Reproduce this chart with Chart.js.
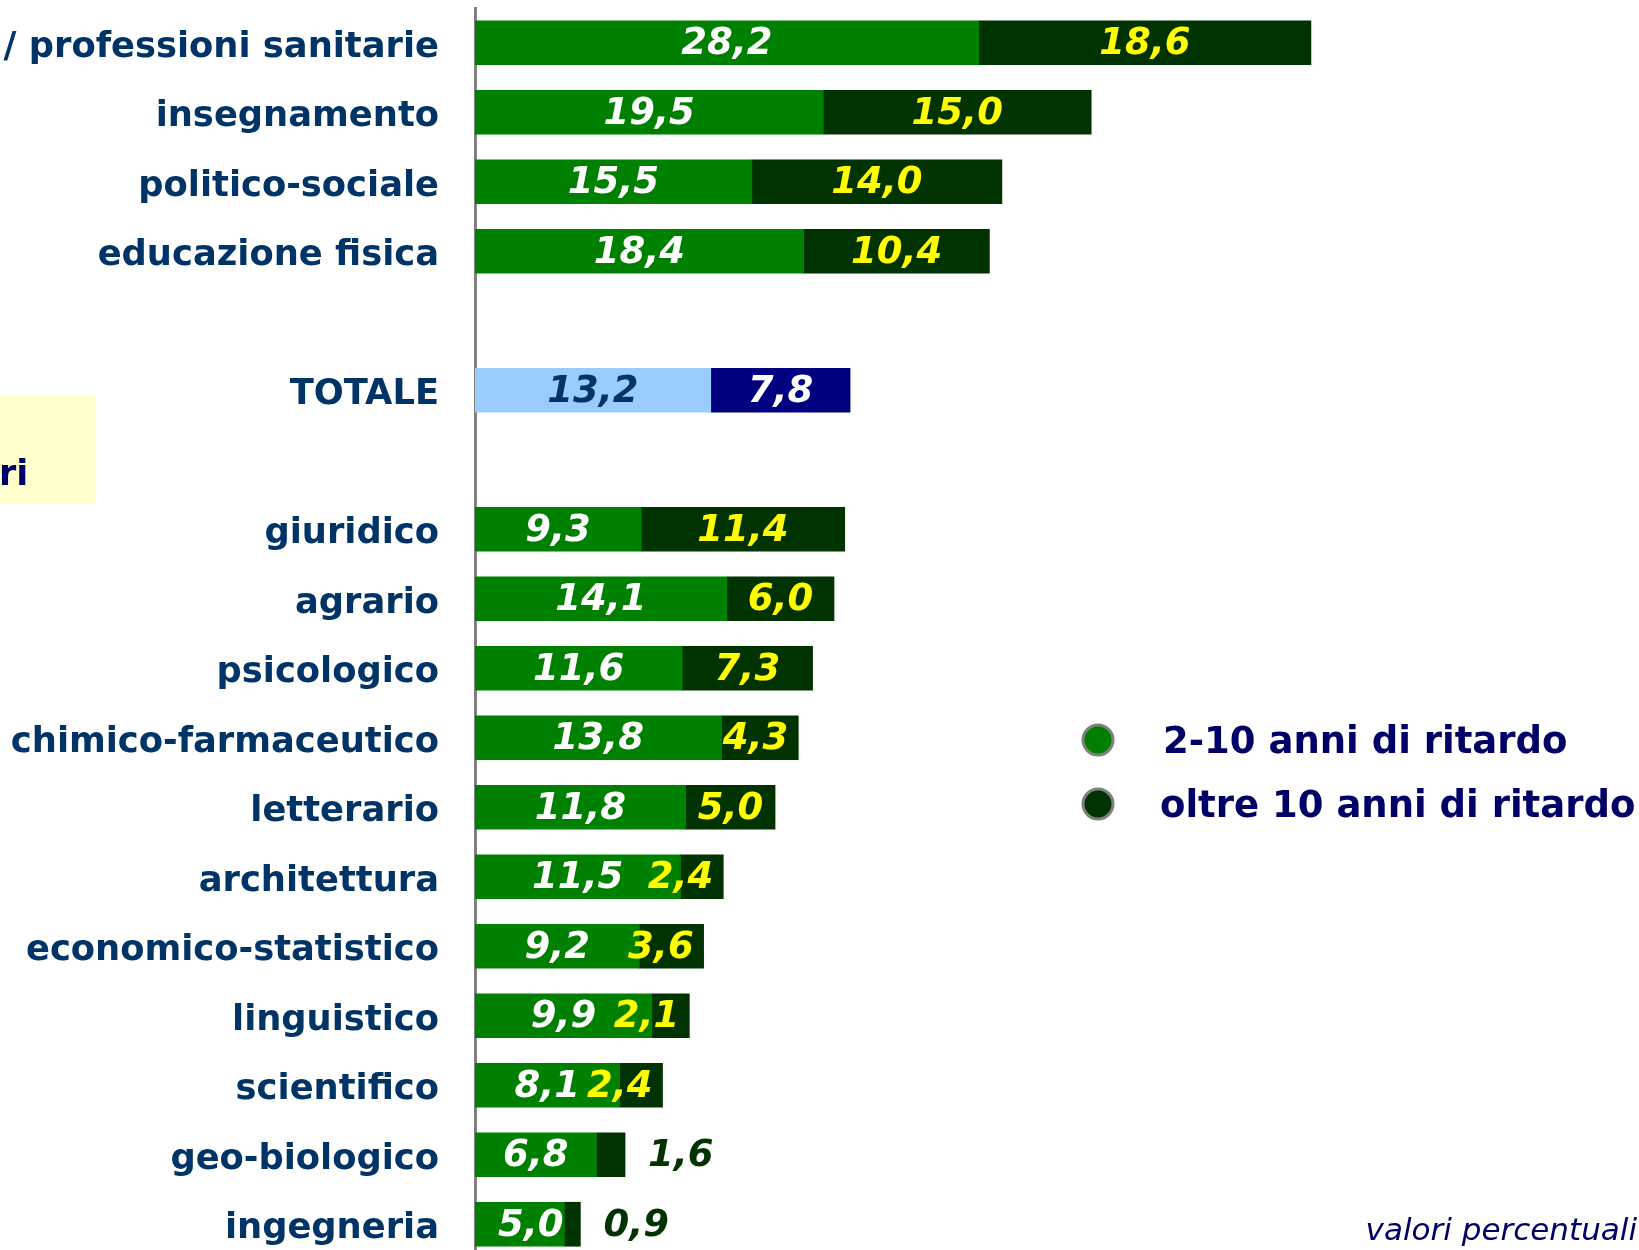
<!DOCTYPE html>
<html>
<head>
<meta charset="utf-8">
<script src="https://cdn.jsdelivr.net/npm/chart.js@4/dist/chart.umd.min.js"></script>
<style>
  html, body { margin: 0; padding: 0; overflow: hidden; background: #fff; }
  #wrap { position: relative; width: 1639px; height: 1262px; }
</style>
</head>
<body>
<div id="wrap"><canvas id="ritardoChart" width="1639" height="1262"></canvas></div>
<script>
// categorie (le righe vuote fanno da spaziatura)
const categories = ['/ professioni sanitarie', 'insegnamento', 'politico-sociale', 'educazione fisica', '',
    'TOTALE', '',
    'giuridico', 'agrario', 'psicologico', 'chimico-farmaceutico', 'letterario', 'architettura',
    'economico-statistico', 'linguistico', 'scientifico', 'geo-biologico', 'ingegneria'];
const ritardo2_10 = [28.2, 19.5, 15.5, 18.4, null, 13.2, null, 9.3, 14.1, 11.6, 13.8, 11.8, 11.5, 9.2, 9.9, 8.1, 6.8, 5.0];
const oltre10 = [18.6, 15.0, 14.0, 10.4, null, 7.8, null, 11.4, 6.0, 7.3, 4.3, 5.0, 2.4, 3.6, 2.1, 2.4, 1.6, 0.9];
const seriesNames = ['2-10 anni di ritardo', 'oltre 10 anni di ritardo'];

const GREEN = '#008000', DARK = '#003300', LIGHTBLUE = '#99CCFF', NAVY = '#000080';
const totIdx = categories.indexOf('TOTALE');
const col1 = categories.map((c, i) => i === totIdx ? LIGHTBLUE : GREEN);
const col2 = categories.map((c, i) => i === totIdx ? NAVY : DARK);

const fmt = v => v.toFixed(1).replace('.', ',');

// etichette dei valori dentro / fuori le barre
const valueLabels = {
    id: 'valueLabels',
    afterDatasetsDraw(chart) {
        const ctx = chart.ctx;
        const left = chart.chartArea.left;
        ctx.save();
        ctx.font = 'bold italic 37px "DejaVu Sans"';
        ctx.textBaseline = 'middle';
        ctx.textAlign = 'center';
        chart.data.datasets.forEach((ds, d) => {
            const meta = chart.getDatasetMeta(d);
            meta.data.forEach((bar, i) => {
                const v = ds.data[i];
                if (v == null) return;
                const txt = fmt(v);
                const w = ctx.measureText(txt).width;
                const x0 = Math.min(bar.base, bar.x), x1 = Math.max(bar.base, bar.x);
                let cx = (x0 + x1) / 2;
                let color;
                if (d === 0) {
                    color = i === totIdx ? '#003366' : '#ffffff';
                    cx = Math.max(cx, left + 23 + w / 2);
                } else {
                    color = i === totIdx ? '#ffffff' : '#ffff00';
                    if (x1 - x0 < 30) {
                        color = DARK;
                        cx = x1 + 23 + w / 2;
                    } else if (cx + w / 2 > x1 - 10) {
                        cx = x1 - 10 - w / 2;
                    }
                }
                ctx.fillStyle = color;
                ctx.fillText(txt, cx, bar.y + 2);
            });
        });
        ctx.restore();
    }
};

// legenda, riquadro giallo e nota
const extras = {
    id: 'extras',
    beforeDraw(chart) {
        const ctx = chart.ctx;
        ctx.save();
        ctx.fillStyle = '#FFFFCC';
        ctx.fillRect(0, 395, 96, 109);
        ctx.fillStyle = '#000066';
        ctx.font = 'bold 35px "DejaVu Sans"';
        ctx.textBaseline = 'alphabetic';
        ctx.textAlign = 'left';
        ctx.fillText('ri', -1, 485);
        ctx.restore();
    },
    afterDraw(chart) {
        const ctx = chart.ctx;
        ctx.save();
        const ys = [740, 804];
        const cols = [GREEN, DARK];
        ys.forEach((y, k) => {
            ctx.beginPath();
            ctx.arc(1098, y, 15, 0, Math.PI * 2);
            ctx.fillStyle = cols[k];
            ctx.fill();
            ctx.lineWidth = 3;
            ctx.strokeStyle = '#808080';
            ctx.stroke();
            ctx.fillStyle = '#000066';
            ctx.font = 'bold 37px "DejaVu Sans"';
            ctx.textBaseline = 'middle';
            ctx.textAlign = 'left';
            ctx.fillText(seriesNames[k], k === 0 ? 1163 : 1160, y + 3);
        });
        ctx.fillStyle = '#000066';
        ctx.font = 'italic 31px "DejaVu Sans"';
        ctx.textAlign = 'right';
        ctx.textBaseline = 'alphabetic';
        ctx.fillText('valori percentuali', 1637, 1240);
        ctx.restore();
    }
};

const ctx = document.getElementById('ritardoChart').getContext('2d');
new Chart(ctx, {
    type: 'bar',
    data: {
        labels: categories,
        datasets: [
            { label: seriesNames[0], data: ritardo2_10, backgroundColor: col1, barThickness: 44 },
            { label: seriesNames[1], data: oltre10, backgroundColor: col2, barThickness: 44 }
        ]
    },
    options: {
        indexAxis: 'y',
        responsive: false,
        animation: false,
        layout: { padding: { top: 8, right: 3, bottom: 3, left: 0 } },
        plugins: {
            legend: { display: false },
            tooltip: { enabled: false },
            title: { display: false }
        },
        scales: {
            x: {
                stacked: true,
                min: 0,
                max: 65,
                display: false
            },
            y: {
                stacked: true,
                grid: { display: false, drawTicks: false },
                border: { display: true, color: '#808080', width: 3 },
                ticks: {
                    padding: 36,
                    labelOffset: 5,
                    color: '#003366',
                    font: { family: 'DejaVu Sans', weight: 'bold', size: 35.3 }
                },
                afterFit(scale) {
                    scale.width = 475;
                    scale.paddingTop = 0;
                    scale.paddingBottom = 0;
                }
            }
        }
    },
    plugins: [valueLabels, extras]
});
</script>
</body>
</html>
